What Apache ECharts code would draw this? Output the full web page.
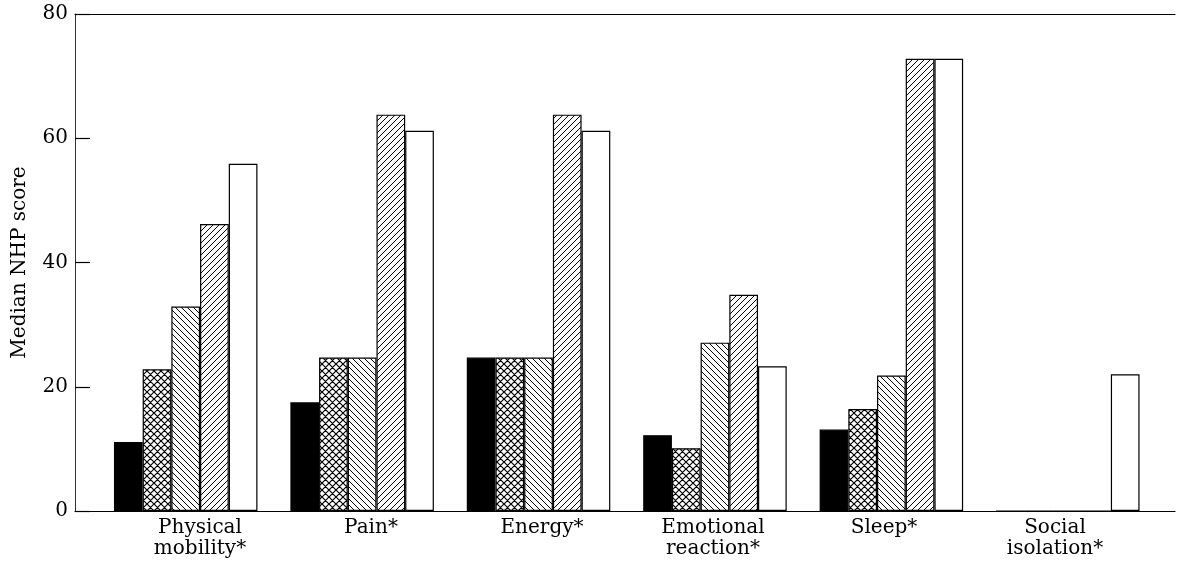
<!DOCTYPE html>
<html>
<head>
<meta charset="utf-8">
<script src="https://cdn.jsdelivr.net/npm/echarts@6/dist/echarts.min.js"></script>
<style>
html,body{margin:0;padding:0;background:#fff;}
#chart{width:1177px;height:565px;}
</style>
</head>
<body>
<div id="chart"></div>
<script>
// ---- data ----
var categories = ['Physical\nmobility*', 'Pain*', 'Energy*', 'Emotional\nreaction*', 'Sleep*', 'Social\nisolation*'];
var seriesA = [11.1, 17.5, 24.7, 12.2, 13.1, 0];   // solid black
var seriesB = [22.8, 24.7, 24.7, 10.1, 16.4, 0];   // cross-hatched
var seriesC = [32.9, 24.7, 24.7, 27.1, 21.8, 0];   // back-slash hatched
var seriesD = [46.2, 63.8, 63.8, 34.8, 72.8, 0];   // forward-slash hatched
var seriesE = [55.9, 61.2, 61.2, 23.3, 72.8, 22.0]; // open
var yTicks = [0, 20, 40, 60, 80];

// ---- hatch patterns ----
function makePattern(kind) {
  var s = kind === 'cross' ? 7 : 6;
  var c = document.createElement('canvas');
  c.width = s; c.height = s;
  var g = c.getContext('2d');
  g.fillStyle = '#fff';
  g.fillRect(0, 0, s, s);
  g.strokeStyle = '#000';
  g.lineWidth = kind === 'cross' ? 1.2 : 1;
  g.beginPath();
  [-s, 0, s].forEach(function (k) {
    if (kind === 'slash' || kind === 'cross') { g.moveTo(k, s); g.lineTo(k + s, 0); }
    if (kind === 'back' || kind === 'cross') { g.moveTo(k, 0); g.lineTo(k + s, s); }
  });
  g.stroke();
  return { image: c, repeat: 'repeat' };
}

var serif = 'DejaVu Serif';
var TOP = 14, BOTTOM = 54;

var chart = echarts.init(document.getElementById('chart'), null, { renderer: 'canvas' });

function barSeries(data, fill) {
  return {
    type: 'bar', xAxisIndex: 2, yAxisIndex: 1,
    data: data, barWidth: 28.7, barGap: '0%',
    itemStyle: { color: fill, borderColor: '#000', borderWidth: 1.2 },
    silent: true, animation: false
  };
}

function grid(left, right) {
  return { left: left, right: right, top: TOP, bottom: BOTTOM,
           containLabel: false, outerBoundsMode: 'none' };
}

chart.setOption({
  backgroundColor: '#fff',
  animation: false,
  grid: [grid(75, 2), grid(97.5, 21), grid(114.5, 36.5)],
  xAxis: [
    { gridIndex: 0, type: 'category', data: categories, position: 'bottom',
      axisLine: { show: true, onZero: false, lineStyle: { color: '#000', width: 1.2 } },
      axisTick: { show: false }, axisLabel: { show: false }, splitLine: { show: false } },
    { gridIndex: 0, type: 'category', data: categories, position: 'top',
      axisLine: { show: true, onZero: false, lineStyle: { color: '#000', width: 1.2 } },
      axisTick: { show: false }, axisLabel: { show: false }, splitLine: { show: false } },
    { gridIndex: 1, type: 'category', data: categories,
      axisLine: { show: false }, axisTick: { show: false }, axisLabel: { show: false } },
    { gridIndex: 2, type: 'category', data: categories,
      axisLine: { show: false }, axisTick: { show: false },
      axisLabel: { show: true, interval: 0, color: '#000', fontFamily: serif, fontSize: 20,
        lineHeight: 21, margin: 6 } }
  ],
  yAxis: [
    { gridIndex: 0, type: 'value', min: yTicks[0], max: yTicks[yTicks.length - 1], interval: 20,
      name: 'Median NHP score', nameLocation: 'middle', nameGap: 45, nameRotate: 90,
      nameTextStyle: { fontFamily: serif, fontSize: 20, color: '#000' },
      axisLine: { show: true, lineStyle: { color: '#333', width: 1 } },
      axisTick: { show: true, inside: true, length: 15, lineStyle: { color: '#000', width: 1.2 } },
      axisLabel: { color: '#000', fontFamily: serif, fontSize: 20, margin: 7 },
      splitLine: { show: false } },
    { gridIndex: 1, type: 'value', min: 0, max: 80, show: false },
    { gridIndex: 2, type: 'value', min: 0, max: 80, show: false }
  ],
  series: [
    barSeries(seriesA, '#000'),
    barSeries(seriesB, makePattern('cross')),
    barSeries(seriesC, makePattern('back')),
    barSeries(seriesD, makePattern('slash')),
    barSeries(seriesE, '#fff')
  ]
});
</script>
</body>
</html>
